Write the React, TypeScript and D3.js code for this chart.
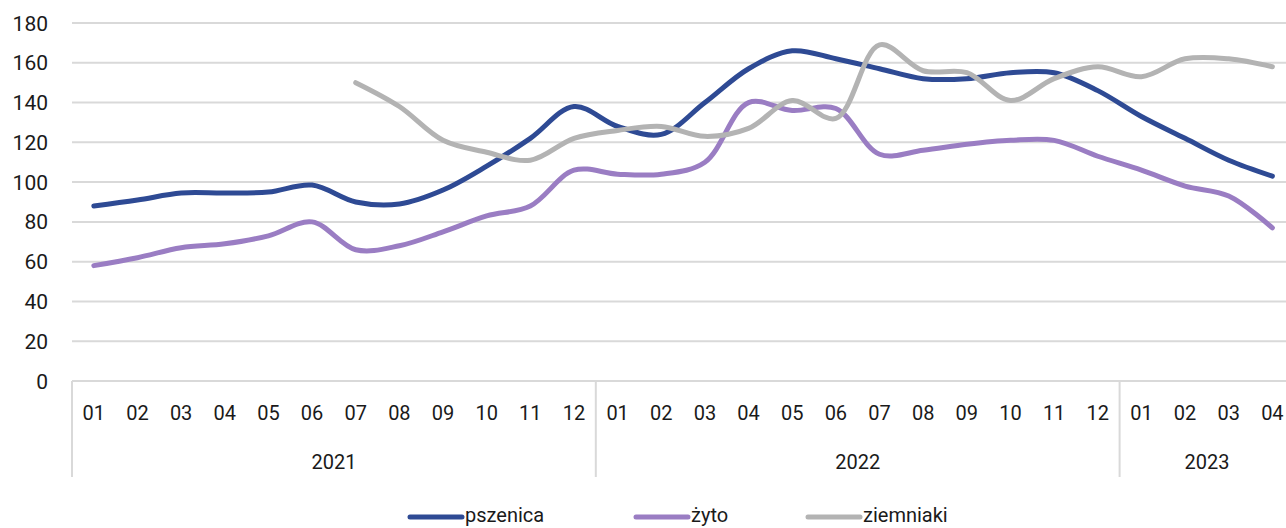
import React, { useEffect, useRef } from 'react';
import * as d3 from 'd3';

const years = ['2021', '2022', '2023'];
const monthsPerYear = [12, 12, 4];
const months = ['01', '02', '03', '04', '05', '06', '07', '08', '09', '10', '11', '12'];

const pszenica = [88, 91, 94.5, 94.5, 95, 98.5, 90, 89, 96, 108, 122, 138,
  128, 124, 140, 157, 166, 162, 157, 152, 152, 155, 155, 146,
  133, 122, 111, 103];
const zyto = [58, 62, 67, 69, 73, 80, 66, 68, 75, 83, 88, 106,
  104, 104, 110, 140, 136, 137, 114, 116, 119, 121, 121, 113,
  106, 98, 93, 77];
const ziemniaki = [null, null, null, null, null, null, 150, 138, 121, 115, 111, 122,
  126, 128, 123, 127, 141, 132, 169, 156, 155, 141, 152, 158,
  153, 162, 162, 158];

const seriesNames = ['pszenica', 'żyto', 'ziemniaki'];
const seriesColors = ['#2E4A94', '#9A7DC3', '#B3B3B3'];
const yTicks = [0, 20, 40, 60, 80, 100, 120, 140, 160, 180];

const W = 1286;
const H = 528;
const FONT = 'Roboto, sans-serif';

const App: React.FC = () => {
  const svgRef = useRef<SVGSVGElement>(null);

  useEffect(() => {
    if (!svgRef.current) return;
    const svg = d3.select(svgRef.current);
    svg.selectAll('*').remove();

    const left = 72;
    const top = 23;
    const bottom = 381;
    const n = pszenica.length;
    const step = 43.65;

    // one band per month, across all years
    const cats = d3.range(n);
    const x = d3.scaleBand<number>()
      .domain(cats)
      .range([left, left + n * step])
      .padding(0);
    const cx = (i: number) => (x(i) as number) + x.bandwidth() / 2;

    const y = d3.scaleLinear().domain([0, 180]).range([bottom, top]);

    // gridlines
    svg.append('g')
      .selectAll('line')
      .data(yTicks)
      .join('line')
      .attr('x1', left)
      .attr('x2', W)
      .attr('y1', d => y(d))
      .attr('y2', d => y(d))
      .attr('stroke', '#D9D9D9')
      .attr('stroke-width', 2);

    // y labels
    svg.append('g')
      .selectAll('text')
      .data(yTicks)
      .join('text')
      .attr('x', 48)
      .attr('y', d => y(d))
      .attr('dy', '0.36em')
      .attr('text-anchor', 'end')
      .attr('font-family', FONT)
      .attr('font-size', 21)
      .attr('fill', '#1a1a1a')
      .text(d => d);

    // month labels
    const monthLabels: string[] = [];
    monthsPerYear.forEach(c => { for (let k = 0; k < c; k++) monthLabels.push(months[k]); });
    svg.append('g')
      .selectAll('text')
      .data(monthLabels)
      .join('text')
      .attr('x', (_, i) => cx(i))
      .attr('y', 420)
      .attr('text-anchor', 'middle')
      .attr('font-family', FONT)
      .attr('font-size', 20)
      .attr('fill', '#1a1a1a')
      .text(d => d);

    // year groups: separators and labels
    let start = 0;
    const bounds: number[] = [left];
    years.forEach((yr, gi) => {
      const end = start + monthsPerYear[gi];
      const x0 = x(start) as number;
      const x1 = end < n ? (x(end) as number) : left + n * step;
      bounds.push(x1);
      svg.append('text')
        .attr('x', (x0 + x1) / 2)
        .attr('y', 469)
        .attr('text-anchor', 'middle')
        .attr('font-family', FONT)
        .attr('font-size', 20)
        .attr('fill', '#1a1a1a')
        .text(yr);
      start = end;
    });
    svg.append('g')
      .selectAll('line')
      .data(bounds.slice(0, 3))
      .join('line')
      .attr('x1', d => d)
      .attr('x2', d => d)
      .attr('y1', bottom)
      .attr('y2', 477)
      .attr('stroke', '#D9D9D9')
      .attr('stroke-width', 2);

    // lines
    const line = d3.line<number | null>()
      .defined(d => d !== null)
      .x((_, i) => cx(i))
      .y(d => y(d as number))
      .curve(d3.curveCatmullRom.alpha(0.5));

    [pszenica, zyto, ziemniaki].forEach((data, si) => {
      svg.append('path')
        .datum(data as (number | null)[])
        .attr('d', line as any)
        .attr('fill', 'none')
        .attr('stroke', seriesColors[si])
        .attr('stroke-width', 5)
        .attr('stroke-linecap', 'round')
        .attr('stroke-linejoin', 'round');
    });

    // legend
    const legendX = [408, 634, 806];
    const legend = svg.append('g');
    seriesNames.forEach((name, i) => {
      legend.append('line')
        .attr('x1', legendX[i] + 2)
        .attr('x2', legendX[i] + 54)
        .attr('y1', 517)
        .attr('y2', 517)
        .attr('stroke', seriesColors[i])
        .attr('stroke-width', 5)
        .attr('stroke-linecap', 'round');
      legend.append('text')
        .attr('x', legendX[i] + 57)
        .attr('y', 522)
        .attr('font-family', FONT)
        .attr('font-size', 20)
        .attr('fill', '#1a1a1a')
        .text(name);
    });
  }, []);

  return (
    <svg
      ref={svgRef}
      width={W}
      height={H}
      style={{ position: 'absolute', left: 0, top: 0, background: '#fff' }}
    />
  );
};

export default App;
